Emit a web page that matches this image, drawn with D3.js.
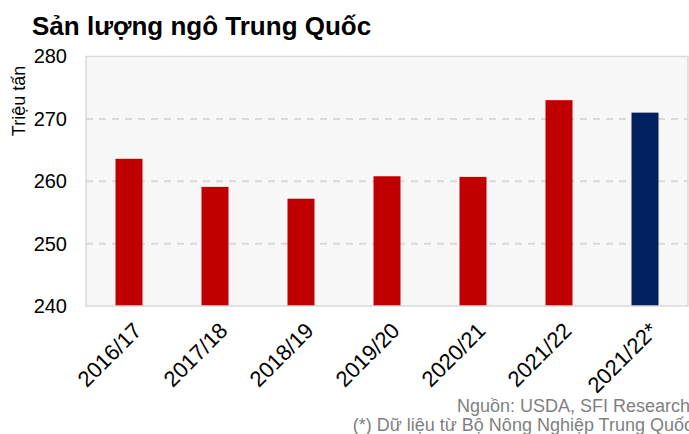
<!DOCTYPE html>
<html>
<head>
<meta charset="utf-8">
<script src="https://cdn.jsdelivr.net/npm/d3@7"></script>
<style>
  body { margin: 0; background: #fff; }
  svg { display: block; font-family: "Liberation Sans", Arial, sans-serif; }
</style>
</head>
<body>
<div id="chart"></div>
<script>
// data
var seasons = ["2016/17", "2017/18", "2018/19", "2019/20", "2020/21", "2021/22", "2021/22*"];
var output = [263.6, 259.1, 257.2, 260.8, 260.7, 273.0, 271.0];
var barColors = ["#C00000", "#C00000", "#C00000", "#C00000", "#C00000", "#C00000", "#002060"];
var yTicks = [240, 250, 260, 270, 280];

var w = 689, h = 434;
var svg = d3.select("#chart").append("svg").attr("width", w).attr("height", h);

var plotL = 86, plotR = 688, plotT = 56.5, plotB = 306;

var x = d3.scaleBand().domain(seasons).range([plotL, plotR]).paddingInner(0.686).paddingOuter(0.343);
var y = d3.scaleLinear().domain([240, 280]).range([plotB, plotT]);

// plot area background
svg.append("rect")
    .attr("x", plotL).attr("y", plotT)
    .attr("width", plotR - plotL).attr("height", plotB - plotT)
    .attr("fill", "#f7f7f7");

// dashed gridlines
svg.append("g").selectAll("line")
    .data(yTicks.filter(function(d) { return d > 240 && d < 280; }))
    .enter().append("line")
    .attr("x1", plotL).attr("x2", plotR)
    .attr("y1", function(d) { return y(d); })
    .attr("y2", function(d) { return y(d); })
    .attr("stroke", "#d9d9d9")
    .attr("stroke-width", 2)
    .attr("stroke-dasharray", "7,6");

// bars
svg.append("g").selectAll("rect")
    .data(output)
    .enter().append("rect")
    .attr("x", function(d, i) { return x(seasons[i]); })
    .attr("width", x.bandwidth())
    .attr("y", function(d) { return y(d); })
    .attr("height", function(d) { return y(240) - y(d); })
    .attr("fill", function(d, i) { return barColors[i]; });

// plot border
svg.append("rect")
    .attr("x", plotL).attr("y", plotT)
    .attr("width", plotR - plotL).attr("height", plotB - plotT)
    .attr("fill", "none")
    .attr("stroke", "#d9d9d9")
    .attr("stroke-width", 1.5);

// y axis labels
var yAxis = d3.axisLeft(y).tickValues(yTicks).tickSize(0).tickPadding(19).tickFormat(d3.format("d"));
var gy = svg.append("g").attr("transform", "translate(" + plotL + ",0)").call(yAxis);
gy.select(".domain").remove();
gy.selectAll("text")
    .attr("font-size", "20px")
    .attr("font-family", "Liberation Sans, Arial, sans-serif")
    .attr("fill", "#000");

// x axis labels, rotated
svg.append("g").selectAll("text")
    .data(seasons)
    .enter().append("text")
    .attr("transform", function(d) { return "translate(" + (x(d) + x.bandwidth() / 2) + "," + 318 + ") rotate(-45)"; })
    .attr("text-anchor", "end")
    .attr("dy", "0.9em")
    .attr("font-size", "22px")
    .attr("fill", "#000")
    .text(function(d) { return d; });

// y axis title
svg.append("text")
    .attr("transform", "translate(25,101) rotate(-90)")
    .attr("text-anchor", "middle")
    .attr("font-size", "18px")
    .attr("fill", "#000")
    .text("Triệu tấn");

// title
svg.append("text")
    .attr("x", 32).attr("y", 35)
    .attr("font-size", "26px")
    .attr("font-weight", "bold")
    .attr("fill", "#000")
    .text("Sản lượng ngô Trung Quốc");

// source notes
svg.append("text")
    .attr("x", 690).attr("y", 412)
    .attr("text-anchor", "end")
    .attr("font-size", "18px")
    .attr("fill", "#7f7f7f")
    .text("Nguồn: USDA, SFI Research");

svg.append("text")
    .attr("x", 693).attr("y", 431)
    .attr("text-anchor", "end")
    .attr("font-size", "18px")
    .attr("fill", "#7f7f7f")
    .text("(*) Dữ liệu từ Bộ Nông Nghiệp Trung Quốc");
</script>
</body>
</html>
